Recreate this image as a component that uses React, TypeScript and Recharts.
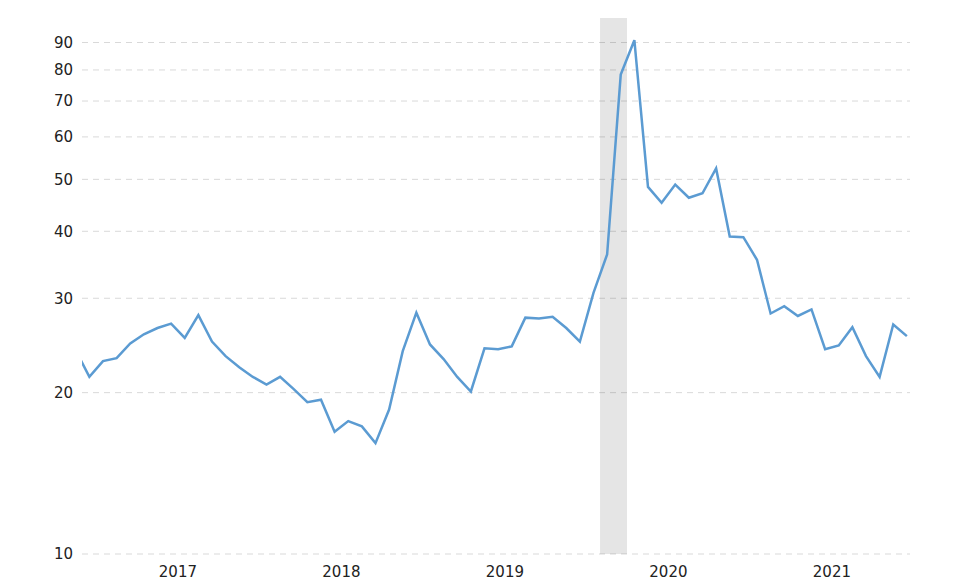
import {
  CartesianGrid,
  Line,
  LineChart,
  ReferenceArea,
  XAxis,
  YAxis,
} from "recharts";

// monthly values, first point sits just left of the visible plot
const peValues = [
  24.0, 21.4, 22.9, 23.2, 24.7, 25.7, 26.4, 26.9, 25.3, 27.9, 24.9, 23.4,
  22.3, 21.4, 20.7, 21.4, 20.3, 19.2, 19.4, 16.9, 17.7, 17.3, 16.1, 18.6,
  23.9, 28.2, 24.6, 23.1, 21.4, 20.1, 24.2, 24.1, 24.4, 27.6, 27.5, 27.7,
  26.4, 24.9, 30.7, 36.2, 78.4, 90.9, 48.4, 45.2, 48.9, 46.2, 47.1, 52.4,
  39.1, 39.0, 35.4, 28.1, 29.0, 27.8, 28.6, 24.1, 24.5, 26.5, 23.4, 21.4,
  26.8, 25.5,
];

const yearLabels = ["2017", "2018", "2019", "2020", "2021"];
const yearTicks = [7.5, 19.5, 31.5, 43.5, 55.5];
const yTicks = [10, 20, 30, 40, 50, 60, 70, 80, 90];
const yDomain: [number, number] = [10, 100];

// recession band (month index)
const recession = { start: 38.48, end: 40.46 };

const data = peValues.map((v, i) => ({ m: i, value: v }));

const tickStyle = {
  fontFamily: "'DejaVu Sans', Verdana, sans-serif",
  fontSize: 15,
  fill: "#222",
};

// grid only at the labelled ticks (no line at the top edge)
function gridRows({ offset }: any) {
  const lo = Math.log10(yDomain[0]);
  const hi = Math.log10(yDomain[1]);
  return yTicks.map(
    (t) => offset.top + offset.height * (1 - (Math.log10(t) - lo) / (hi - lo)),
  );
}

export default function App() {
  return (
    <div style={{ position: "fixed", left: 0, top: 0, background: "#fff" }}>
      <LineChart
        width={975}
        height={584}
        data={data}
        margin={{ top: 18, right: 65, bottom: 0, left: 0 }}
      >
        <CartesianGrid
          vertical={false}
          stroke="#d9d9d9"
          strokeDasharray="6 5"
          horizontalCoordinatesGenerator={gridRows}
        />
        <ReferenceArea
          x1={recession.start}
          x2={recession.end}
          y1={yDomain[0]}
          y2={yDomain[1]}
          fill="#000"
          fillOpacity={0.1}
          stroke="none"
          ifOverflow="hidden"
        />
        <XAxis
          dataKey="m"
          type="number"
          domain={[0.46, 61.23]}
          allowDataOverflow
          ticks={yearTicks}
          tickFormatter={(v: number) => yearLabels[yearTicks.indexOf(v)] ?? ""}
          axisLine={false}
          tickLine={false}
          tickSize={6}
          tickMargin={6}
          height={30}
          tick={tickStyle}
          interval={0}
        />
        <YAxis
          scale="log"
          domain={yDomain}
          allowDataOverflow
          ticks={yTicks}
          axisLine={false}
          tickLine={false}
          tickSize={6}
          tickMargin={3}
          width={82}
          tick={tickStyle}
          interval={0}
        />
        <Line
          type="linear"
          dataKey="value"
          stroke="#5b9bd2"
          strokeWidth={2.5}
          dot={false}
          activeDot={false}
          isAnimationActive={false}
        />
      </LineChart>
    </div>
  );
}
